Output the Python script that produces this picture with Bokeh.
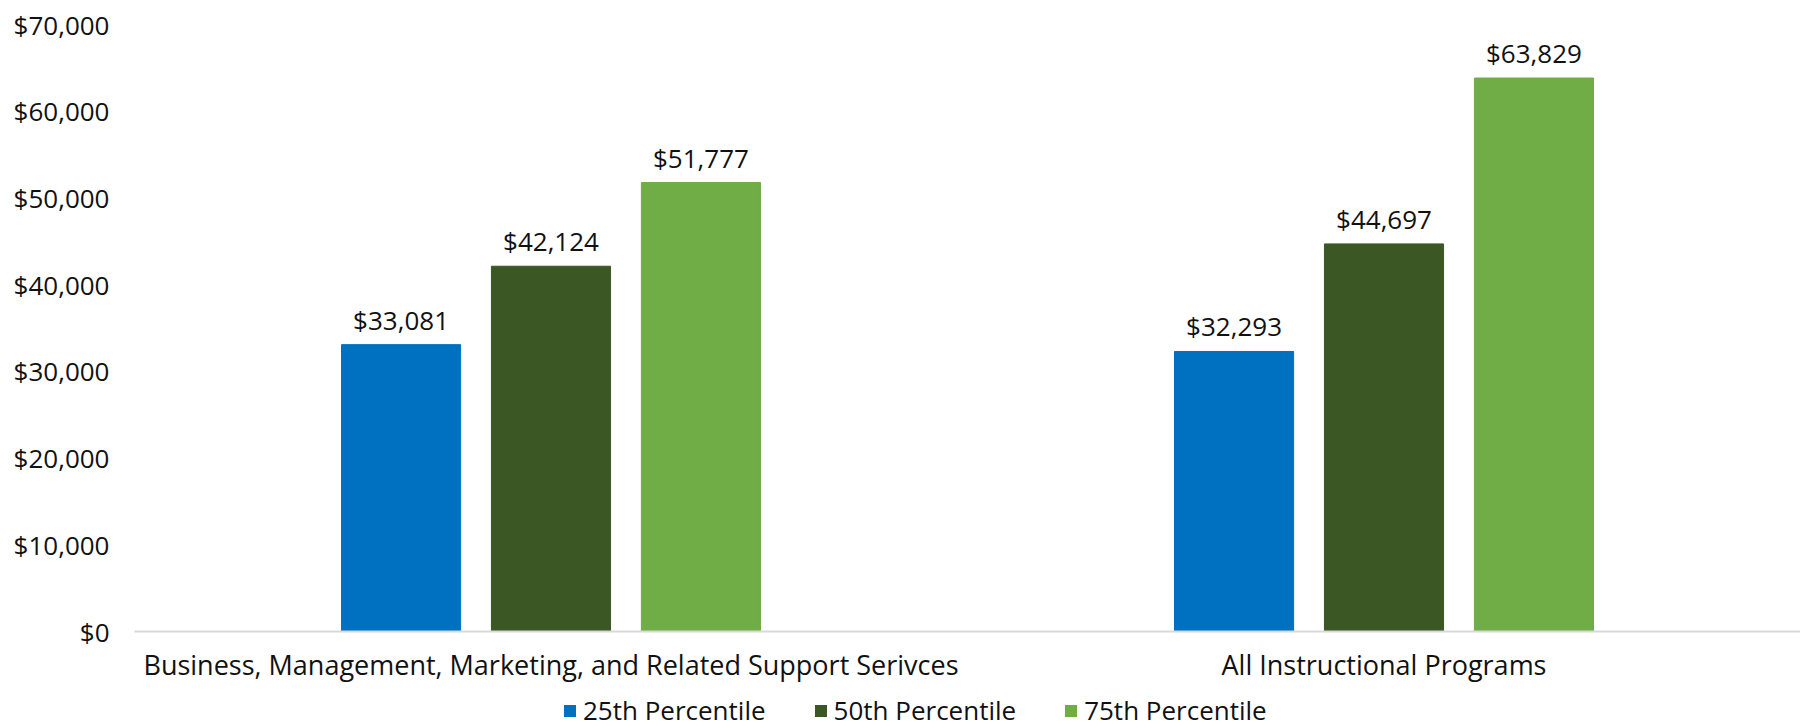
from bokeh.plotting import figure
from bokeh.layouts import column
from bokeh.models import (ColumnDataSource, FactorRange, LabelSet, NumeralTickFormatter,
                          FixedTicker, Legend, LegendItem)
from bokeh.transform import dodge
from bokeh.core.properties import value
from bokeh.embed import file_html
from bokeh.resources import INLINE

categories = ["Business, Management, Marketing, and Related Support Serivces",
              "All Instructional Programs"]
p25 = [33081, 32293]
p50 = [42124, 44697]
p75 = [51777, 63829]
series_names = ["25th Percentile", "50th Percentile", "75th Percentile"]
colors = ["#0070C0", "#3B5724", "#70AD47"]
y_ticks = [0, 10000, 20000, 30000, 40000, 50000, 60000, 70000]

FONT = "Open Sans"
TXT = "#111111"

src = ColumnDataSource(dict(
    cat=categories,
    p25=p25, p50=p50, p75=p75,
    l25=["${:,}".format(v) for v in p25],
    l50=["${:,}".format(v) for v in p50],
    l75=["${:,}".format(v) for v in p75],
))

p = figure(x_range=FactorRange(factors=categories, range_padding=0),
           y_range=(0, 70000),
           width=1800, height=686,
           output_backend="svg", toolbar_location=None, title=None,
           min_border_left=134, min_border_right=0,
           min_border_top=24, min_border_bottom=55)

offsets = [-0.18, 0.0, 0.18]
keys = ["p25", "p50", "p75"]
lkeys = ["l25", "l50", "l75"]
for off, k, lk, c in zip(offsets, keys, lkeys, colors):
    xs = dodge("cat", off, range=p.x_range)
    p.vbar(x=xs, top=k, width=0.143, source=src, color=c)
    p.add_layout(LabelSet(x=xs, y=k, text=lk, source=src,
                          text_align="center", text_baseline="alphabetic",
                          y_offset=15, text_font=value(FONT), text_font_size="26px",
                          text_color=TXT))

p.xgrid.grid_line_color = None
p.ygrid.grid_line_color = None
p.outline_line_color = None
p.background_fill_color = "white"
p.border_fill_color = "white"

p.yaxis.ticker = FixedTicker(ticks=y_ticks)
p.yaxis.formatter = NumeralTickFormatter(format="$0,0")
p.yaxis.axis_line_color = None
p.yaxis.major_tick_line_color = None
p.yaxis.minor_tick_line_color = None
p.yaxis.major_tick_out = 0
p.yaxis.major_tick_in = 0
p.yaxis.major_label_standoff = 25
p.yaxis.major_label_text_font = FONT
p.yaxis.major_label_text_font_size = "26px"
p.yaxis.major_label_text_color = TXT

p.xaxis.axis_line_color = "#D9D9D9"
p.xaxis.axis_line_width = 2
p.xaxis.major_tick_line_color = None
p.xaxis.minor_tick_line_color = None
p.xaxis.major_tick_out = 0
p.xaxis.major_tick_in = 0
p.xaxis.major_label_standoff = 14
p.xaxis.major_label_text_font = FONT
p.xaxis.major_label_text_font_size = "27px"
p.xaxis.major_label_text_color = TXT

# legend strip below the chart: zero-width bars outside its y range, only swatches show
pl = figure(width=1800, height=42, output_backend="svg", toolbar_location=None,
            title=None, x_axis_type=None, y_axis_type=None,
            min_border_left=0, min_border_right=0, min_border_top=0, min_border_bottom=0,
            x_range=FactorRange(factors=categories, range_padding=0),
            y_range=(-2000000, -1000000))
pl.outline_line_color = None
pl.xgrid.grid_line_color = None
pl.ygrid.grid_line_color = None
pl.background_fill_color = "white"
pl.border_fill_color = "white"
items = []
for off, k, c, name in zip(offsets, keys, colors, series_names):
    r = pl.vbar(x=dodge("cat", off, range=pl.x_range), top=k, width=0,
                source=src, fill_color=c, line_color=None)
    items.append(LegendItem(label=name, renderers=[r]))

lg = Legend(items=items, orientation="horizontal", location=(428, 0),
            padding=0, margin=0, spacing=47,
            glyph_width=15, glyph_height=15, label_standoff=6,
            label_text_font=FONT, label_text_font_size="26px",
            label_text_color=TXT, border_line_color=None,
            background_fill_alpha=0)
pl.add_layout(lg)

layout = column(p, pl, spacing=0)
open("out.html", "w").write(file_html(layout, INLINE))
